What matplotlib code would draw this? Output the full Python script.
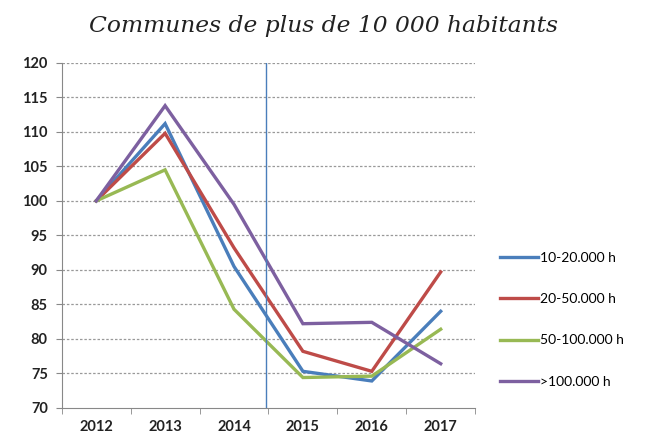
import matplotlib.pyplot as plt
import numpy as np

years = ["2012", "2013", "2014", "2015", "2016", "2017"]
labels = ["10-20.000 h", "20-50.000 h", "50-100.000 h", ">100.000 h"]
v_10_20 = [100, 111.2, 90.5, 75.3, 73.9, 84.0]
v_20_50 = [100, 109.8, 93.2, 78.2, 75.3, 89.7]
v_50_100 = [100, 104.5, 84.3, 74.4, 74.6, 81.4]
v_100 = [100, 113.8, 99.5, 82.2, 82.4, 76.4]
colors = ["#4A7EBB", "#BE4B48", "#98B954", "#7D60A0"]


def main():
    fig = plt.figure(figsize=(6.5, 4.4), dpi=100)
    ax = fig.add_axes([0.095, 0.073, 0.636, 0.784])

    x = np.arange(len(years))
    for vals, lab, c in zip([v_10_20, v_20_50, v_50_100, v_100], labels, colors):
        ax.plot(x, vals, color=c, linewidth=2.4, label=lab, solid_joinstyle="miter")

    ax.axvline(2.47, color="#4A7EBB", linewidth=1.0)

    ax.set_xlim(-0.5, 5.5)
    ax.set_ylim(70, 120)
    ax.set_yticks(np.arange(70, 121, 5))
    ax.set_xticks(x)
    ax.set_xticklabels(years)
    ax.set_xticks(np.arange(-0.5, 5.6, 1), minor=True)
    ax.tick_params(axis="x", which="major", length=0, pad=9)
    ax.tick_params(axis="x", which="minor", length=4, color="#888888")
    ax.tick_params(axis="y", length=4, color="#888888", pad=6)
    for t in ax.get_xticklabels() + ax.get_yticklabels():
        t.set_fontfamily("Lato")
        t.set_fontweight("bold")
        t.set_fontsize(10.5)
        t.set_color("#222222")

    for yv in np.arange(75, 121, 5):
        ax.axhline(yv, color="#999999", linewidth=0.9, linestyle=(0, (2, 1.5)), zorder=0)

    for s in ["top", "right"]:
        ax.spines[s].set_visible(False)
    for s in ["left", "bottom"]:
        ax.spines[s].set_color("#888888")

    fig.text(0.497, 0.94, "Communes de plus de 10 000 habitants", ha="center", va="center",
             fontfamily="DejaVu Serif", fontstyle="italic", fontsize=16.8, color="#222222")

    ax.legend(loc="center left", bbox_to_anchor=(1.03, 0.255), frameon=False,
              prop={"family": "Lato", "size": 10}, handlelength=2.7, handletextpad=0.2,
              labelspacing=2.1)

    fig.savefig("out.png", dpi=100)


if __name__ == "__main__":
    main()
